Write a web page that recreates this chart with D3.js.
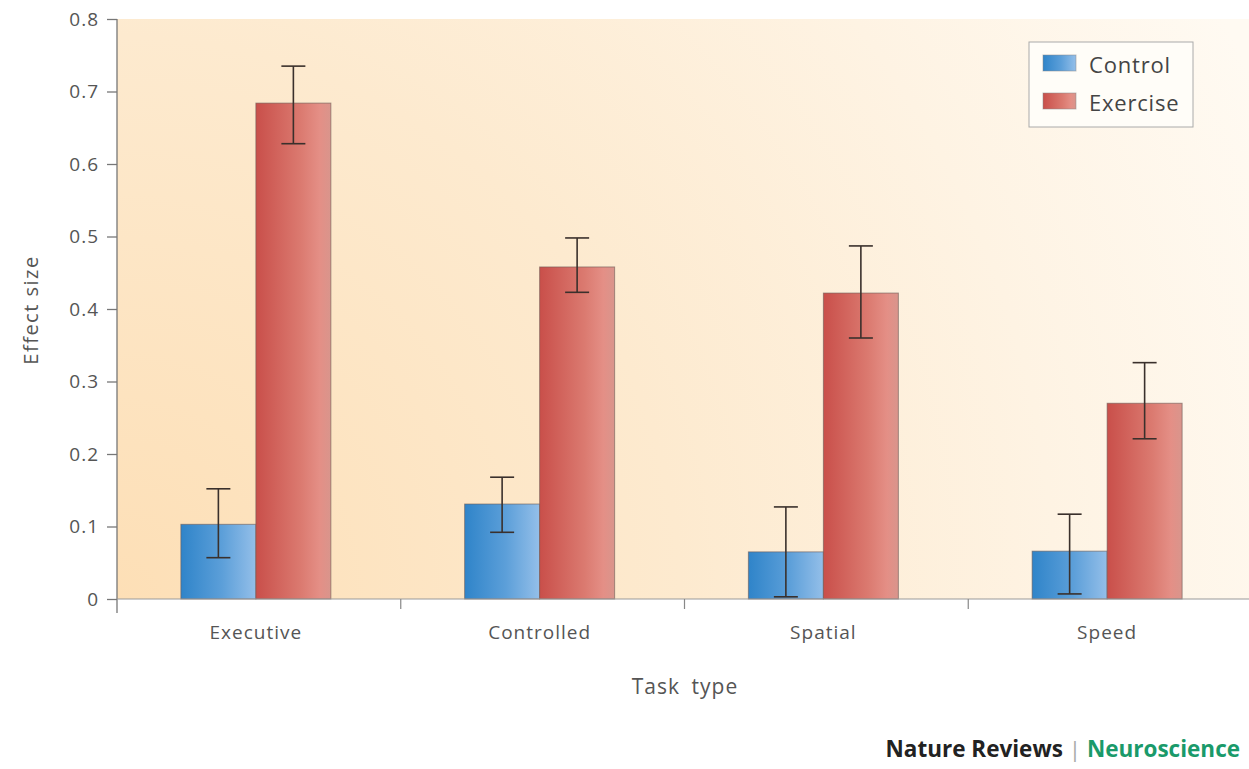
<!DOCTYPE html>
<html>
<head>
<meta charset="utf-8">
<script src="https://cdn.jsdelivr.net/npm/d3@7"></script>
<style>
  body { margin: 0; background: #fff; }
  text { font-family: "Open Sans", "Noto Sans", sans-serif; }
</style>
</head>
<body>
<div id="chart"></div>
<script>
// data
const categories = ["Executive", "Controlled", "Spatial", "Speed"];
const series = ["Control", "Exercise"];
const controlMean = [0.103, 0.131, 0.065, 0.066];
const controlLow  = [0.057, 0.092, 0.003, 0.007];
const controlHigh = [0.152, 0.168, 0.127, 0.117];
const exerciseMean = [0.684, 0.458, 0.422, 0.270];
const exerciseLow  = [0.628, 0.423, 0.360, 0.221];
const exerciseHigh = [0.735, 0.498, 0.487, 0.326];
const yTicks = [0, 0.1, 0.2, 0.3, 0.4, 0.5, 0.6, 0.7, 0.8];

const width = 1249, height = 769;
const margin = {top: 19, right: 2, bottom: 170, left: 117};

const svg = d3.select("#chart").append("svg")
    .attr("width", width)
    .attr("height", height);

const defs = svg.append("defs");

// background glow, warm at bottom-left
const bg = defs.append("radialGradient")
    .attr("id", "bgGrad")
    .attr("gradientUnits", "userSpaceOnUse")
    .attr("cx", margin.left).attr("cy", height - margin.bottom)
    .attr("r", 1250);
bg.append("stop").attr("offset", "0%").attr("stop-color", "#fddfb6");
bg.append("stop").attr("offset", "45%").attr("stop-color", "#fdeacf");
bg.append("stop").attr("offset", "75%").attr("stop-color", "#fef3e3");
bg.append("stop").attr("offset", "100%").attr("stop-color", "#fffaf2");

const blueGrad = defs.append("linearGradient").attr("id", "blueGrad");
blueGrad.append("stop").attr("offset", "0%").attr("stop-color", "#2f84c9");
blueGrad.append("stop").attr("offset", "55%").attr("stop-color", "#5c9fd9");
blueGrad.append("stop").attr("offset", "100%").attr("stop-color", "#94bfe9");

const redGrad = defs.append("linearGradient").attr("id", "redGrad");
redGrad.append("stop").attr("offset", "0%").attr("stop-color", "#c94f4a");
redGrad.append("stop").attr("offset", "60%").attr("stop-color", "#db7a70");
redGrad.append("stop").attr("offset", "85%").attr("stop-color", "#e48f86");
redGrad.append("stop").attr("offset", "100%").attr("stop-color", "#d9958c");

const x0 = d3.scaleBand()
    .domain(categories)
    .range([margin.left, width + 3]);

const groupWidth = 150;
const x1 = d3.scaleBand()
    .domain(series)
    .range([0, groupWidth]);

const y = d3.scaleLinear()
    .domain([0, 0.8])
    .range([height - margin.bottom, margin.top]);

const fillFor = {Control: "url(#blueGrad)", Exercise: "url(#redGrad)"};

// plot background
svg.append("rect")
    .attr("x", margin.left)
    .attr("y", y(0.8))
    .attr("width", width - margin.left)
    .attr("height", y(0) - y(0.8))
    .attr("fill", "url(#bgGrad)");

// bar data
const rows = categories.map((c, i) => ({
  cat: c,
  values: [
    {key: "Control", mean: controlMean[i], lo: controlLow[i], hi: controlHigh[i]},
    {key: "Exercise", mean: exerciseMean[i], lo: exerciseLow[i], hi: exerciseHigh[i]}
  ]
}));

const groups = svg.selectAll(".grp")
  .data(rows)
  .join("g")
    .attr("transform", d => `translate(${x0(d.cat) + (x0.bandwidth() - groupWidth) / 2 - 3},0)`);

groups.selectAll("rect")
  .data(d => d.values)
  .join("rect")
    .attr("x", d => x1(d.key))
    .attr("y", d => y(d.mean))
    .attr("width", x1.bandwidth())
    .attr("height", d => y(0) - y(d.mean))
    .attr("fill", d => fillFor[d.key])
    .attr("stroke", "#6a5a55")
    .attr("stroke-opacity", 0.6)
    .attr("stroke-width", 1);

// error bars
const capW = 24;
const err = groups.selectAll(".err")
  .data(d => d.values)
  .join("g")
    .attr("stroke", "#3a302c")
    .attr("stroke-width", 1.6);

err.append("line")
    .attr("x1", d => x1(d.key) + x1.bandwidth() / 2)
    .attr("x2", d => x1(d.key) + x1.bandwidth() / 2)
    .attr("y1", d => y(d.hi))
    .attr("y2", d => y(d.lo));
err.append("line")
    .attr("x1", d => x1(d.key) + x1.bandwidth() / 2 - capW / 2)
    .attr("x2", d => x1(d.key) + x1.bandwidth() / 2 + capW / 2)
    .attr("y1", d => y(d.hi))
    .attr("y2", d => y(d.hi));
err.append("line")
    .attr("x1", d => x1(d.key) + x1.bandwidth() / 2 - capW / 2)
    .attr("x2", d => x1(d.key) + x1.bandwidth() / 2 + capW / 2)
    .attr("y1", d => y(d.lo))
    .attr("y2", d => y(d.lo));

// y axis
const yAxis = svg.append("g")
    .attr("transform", `translate(${margin.left},0)`)
    .call(d3.axisLeft(y).tickValues(yTicks).tickSize(10).tickPadding(8)
      .tickFormat(d => d === 0 ? "0" : d3.format(".1f")(d)));
yAxis.select(".domain")
    .attr("d", `M0,${y(0.8)}V${y(0) + 14}`);
yAxis.selectAll("path, line").attr("stroke", "#777").attr("stroke-width", 1.3);
yAxis.selectAll("text")
    .attr("font-size", 19)
    .attr("letter-spacing", 1)
    .attr("fill", "#555")
    .style("font-family", "'Open Sans', sans-serif");

// x axis
const xAxis = svg.append("g")
    .attr("transform", `translate(0,${y(0)})`);
xAxis.append("line")
    .attr("x1", margin.left).attr("x2", width)
    .attr("stroke", "#999").attr("stroke-width", 1.2);
xAxis.selectAll(".sep")
  .data(categories.slice(1))
  .join("line")
    .attr("x1", d => x0(d)).attr("x2", d => x0(d))
    .attr("y1", 0).attr("y2", 10)
    .attr("stroke", "#888").attr("stroke-width", 1.2);
xAxis.selectAll(".lbl")
  .data(categories)
  .join("text")
    .attr("x", d => x0(d) + x0.bandwidth() / 2 - 3)
    .attr("y", 40)
    .attr("text-anchor", "middle")
    .attr("font-size", 19)
    .attr("letter-spacing", 1)
    .attr("fill", "#555")
    .text(d => d);

// axis titles
svg.append("text")
    .attr("x", 685)
    .attr("y", 694)
    .attr("text-anchor", "middle")
    .attr("font-size", 21)
    .attr("letter-spacing", 1)
    .attr("fill", "#555")
    .attr("word-spacing", 5)
    .text("Task type");

svg.append("text")
    .attr("transform", `translate(38,310) rotate(-90)`)
    .attr("text-anchor", "middle")
    .attr("font-size", 20)
    .attr("letter-spacing", 1.5)
    .attr("fill", "#555")
    .text("Effect size");

// legend
const legend = svg.append("g").attr("transform", "translate(1029,42)");
legend.append("rect")
    .attr("width", 164).attr("height", 85)
    .attr("fill", "#fffdf8")
    .attr("stroke", "#aaa").attr("stroke-width", 1);
legend.selectAll(".sw")
  .data(series)
  .join("rect")
    .attr("x", 14)
    .attr("y", (d, i) => 13 + i * 38)
    .attr("width", 33).attr("height", 16)
    .attr("fill", d => fillFor[d])
    .attr("stroke", "#888").attr("stroke-opacity", 0.5);
legend.selectAll(".lt")
  .data(series)
  .join("text")
    .attr("x", 60)
    .attr("y", (d, i) => 31 + i * 38)
    .attr("font-size", 22)
    .attr("letter-spacing", 0.8)
    .attr("fill", "#444")
    .text(d => d);

// journal credit
const credit = svg.append("text")
    .attr("x", 1240)
    .attr("y", 757)
    .attr("text-anchor", "end")
    .attr("font-size", 22.5)
    .attr("font-weight", "bold");
credit.append("tspan").attr("fill", "#222").text("Nature Reviews ");
credit.append("tspan").attr("fill", "#aaa").attr("font-weight", "normal").text("| ");
credit.append("tspan").attr("fill", "#1a9a6a").text("Neuroscience");
</script>
</body>
</html>
